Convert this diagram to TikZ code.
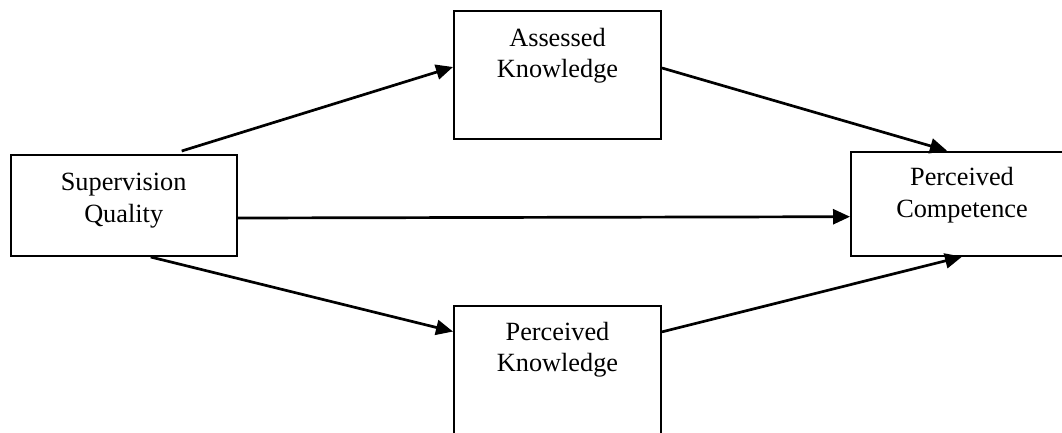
\documentclass[tikz,border=0pt]{standalone}
\usepackage{fontspec}
\setmainfont{Liberation Serif}
\usetikzlibrary{arrows.meta}
\begin{document}
\begin{tikzpicture}[x=1pt,y=-1pt,
  box/.style={draw,line width=2pt,rectangle,inner sep=0pt,align=center,
    font=\fontsize{26.3}{31.5}\selectfont},
  conn/.style={line width=2.7pt,-{Triangle[length=17pt,width=15pt]}}]
\clip (0,0) rectangle (1062,432);
\fill[white] (0,0) rectangle (1062,432);
\node[box,minimum width=226pt,text height=67pt,text depth=34pt] (SQ) at (123.7,205.5) {Supervision\\Quality};
\node[box,minimum width=207pt,text height=66.7pt,text depth=61.3pt] (AK) at (557.5,75) {Assessed\\Knowledge};
\node[box,minimum width=207pt,text height=66pt,text depth=62pt] (PK) at (557.5,369.85) {Perceived\\Knowledge};
\node[box,minimum width=222pt,text height=65.6pt,text depth=38.4pt] (PC) at (962,203.7) {Perceived\\Competence};
\draw[conn] ([xshift=58pt,yshift=3pt]SQ.north) -- ([yshift=8pt]AK.west);
\draw[conn] ([yshift=7pt]AK.east) -- ([xshift=-15pt]PC.north);
\draw[conn] ([yshift=-12.5pt]SQ.east) -- ([yshift=-13pt]PC.west);
\draw[conn] ([xshift=27pt]SQ.south) -- ([yshift=38.3pt]PK.west);
\draw[conn] ([yshift=38pt]PK.east) -- (PC.south);
\end{tikzpicture}
\end{document}
